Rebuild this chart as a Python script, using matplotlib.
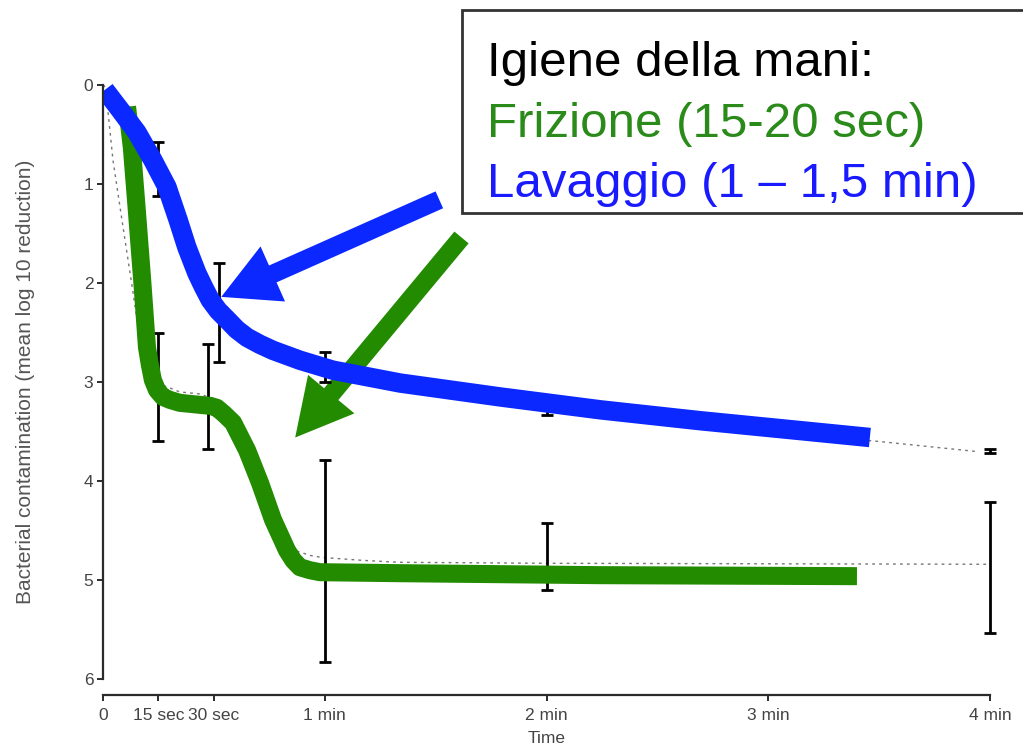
import numpy as np
import matplotlib.pyplot as plt
from matplotlib.patches import Rectangle, FancyArrowPatch

plt.rcParams['font.family'] = ['Liberation Sans', 'DejaVu Sans']

# x ticks (seconds) and their labels
tick_sec = [0, 15, 30, 60, 120, 180, 240]
tick_lab = ['0', '15 sec', '30 sec', '1 min', '2 min', '3 min', '4 min']

# measured means and error bars (log10 reduction)
lav_t = [15, 31.5, 60, 120, 240]
lav_mean = [0.85, 2.30, 2.85, 3.30, 3.70]
lav_err = [0.27, 0.50, 0.15, 0.03, 0.02]

fri_t = [15, 28.5, 60, 120, 240]
fri_mean = [3.05, 3.15, 4.81, 4.76, 4.87]
fri_err = [0.55, 0.53, 1.02, 0.34, 0.66]

# fitted curves (dotted)
fit_fri_t = [0, 1.1, 2.7, 5.4, 8.1, 10.8, 14, 20.8, 26.2, 32, 36, 40, 44, 47.3, 50, 52.7, 56, 59, 70, 80, 120, 240]
fit_fri_v = [0, 0.18, 0.76, 1.43, 2.09, 2.77, 3.00, 3.10, 3.12, 3.20, 3.40, 3.75, 4.15, 4.45, 4.62, 4.71, 4.75, 4.77, 4.80, 4.82, 4.83, 4.84]
fit_lav_t = [0, 5, 10, 15, 20, 25, 30, 40, 60, 90, 120, 150, 180, 210, 236]
fit_lav_v = [0, 0.15, 0.45, 0.90, 1.40, 1.80, 2.10, 2.50, 2.85, 3.10, 3.28, 3.40, 3.50, 3.60, 3.70]

# hand-drawn highlight curves
lav_hl_t = [0.5, 4.6, 9.2, 13.5, 17.3, 20.3, 22.7, 25.4, 27.2, 29.0, 31.2, 33.6, 36.2, 39.0, 42.5,
            46.0, 53.3, 62.2, 80.4, 107.4, 134.5, 161.5, 188.6, 207.5]
lav_hl_v = [0.05, 0.25, 0.48, 0.76, 1.03, 1.36, 1.64, 1.90, 2.04, 2.17, 2.28, 2.37, 2.47, 2.55, 2.62,
            2.68, 2.78, 2.88, 3.01, 3.15, 3.28, 3.39, 3.49, 3.56]
fri_hl_t = [6.5, 7.8, 9.2, 10.6, 11.9, 12.7, 13.5, 14.6, 16.2, 18.1, 20.8, 26.2, 29.0, 30.8, 32.7,
            35.2, 37.1, 39.0, 42.5, 46.0, 49.8, 51.5, 53.3, 56.0, 58.7, 80.4, 134.5, 204.0]
fri_hl_v = [0.22, 0.63, 1.29, 1.97, 2.65, 2.83, 2.98, 3.08, 3.15, 3.18, 3.21, 3.23, 3.24, 3.26, 3.32,
            3.41, 3.55, 3.69, 4.02, 4.39, 4.70, 4.80, 4.87, 4.90, 4.92, 4.93, 4.95, 4.96]

W, H = 1023, 748
fig = plt.figure(figsize=(W / 100, H / 100), dpi=100)
ax = fig.add_axes([103 / W, 1 - 695 / H, (990 - 103) / W, (695 - 80) / H])
ax.set_xlim(0, 240)
ax.set_ylim(6.16, -0.05)

dark = '#2b2b2b'
for s in ['top', 'right']:
    ax.spines[s].set_visible(False)
for s in ['left', 'bottom']:
    ax.spines[s].set_linewidth(1.6)
    ax.spines[s].set_color(dark)
ax.spines['left'].set_bounds(0, 6)
ax.spines['bottom'].set_bounds(0, 240)

ax.set_xticks(tick_sec)
ax.set_xticklabels(tick_lab)
ax.set_yticks(range(7))
ax.tick_params(axis='both', direction='out', length=4, width=1.4, color=dark,
               labelsize=12.5, labelcolor='#444444')
ax.tick_params(axis='x', pad=5)
ax.tick_params(axis='y', pad=3)
ax.set_xlabel('Time', fontsize=12.5, color='#444444', labelpad=-4)
ax.xaxis.set_label_coords(0.5, -0.058)
ax.set_ylabel('Bacterial contamination (mean log 10 reduction)', fontsize=15,
              color='#555555')
ax.yaxis.set_label_coords(-0.077, 0.51)

ax.plot(fit_fri_t, fit_fri_v, ls=(0, (2, 3)), color='#777777', lw=1.0)
ax.plot(fit_lav_t, fit_lav_v, ls=(0, (2, 3)), color='#777777', lw=1.0)

eb = dict(fmt='none', ecolor='black', elinewidth=2, capsize=4.5, capthick=2)
for t, m, e in [(lav_t, lav_mean, lav_err), (fri_t, fri_mean, fri_err)]:
    cont = ax.errorbar(t, m, yerr=e, **eb)
    for art in cont.get_children():
        art.set_clip_on(False)

green = '#228b00'
blue = '#0a28ff'
ax.plot(fri_hl_t, fri_hl_v, color=green, lw=13, solid_capstyle='butt', solid_joinstyle='round')
ax.plot(lav_hl_t, lav_hl_v, color=blue, lw=14, solid_capstyle='butt', solid_joinstyle='round')

# arrows pointing at the two curves
arr = 'simple,head_length=2.9,head_width=3.1,tail_width=0.95'
ax.add_patch(FancyArrowPatch((91, 1.16), (32, 2.14), arrowstyle=arr, mutation_scale=14,
                             color=blue, lw=0, shrinkA=0, shrinkB=0))
ax.add_patch(FancyArrowPatch((97, 1.54), (52, 3.56), arrowstyle=arr, mutation_scale=14,
                             color=green, lw=0, shrinkA=0, shrinkB=0))

# legend box
fig.patches.append(Rectangle((462 / W, 1 - 213 / H), 600 / W, 203 / H,
                             transform=fig.transFigure, facecolor='white',
                             edgecolor='#333333', lw=2, zorder=5))
fig.text(487 / W, 1 - 76 / H, 'Igiene della mani:', fontsize=35.5, color='black', va='baseline', zorder=6)
fig.text(487 / W, 1 - 137 / H, 'Frizione (15-20 sec)', fontsize=35.5, color='#2a8a1a', va='baseline', zorder=6)
fig.text(487 / W, 1 - 197 / H, 'Lavaggio (1 \u2013 1,5 min)', fontsize=35.5, color='#1a1aff', va='baseline', zorder=6)

fig.savefig('out.png', dpi=100)
